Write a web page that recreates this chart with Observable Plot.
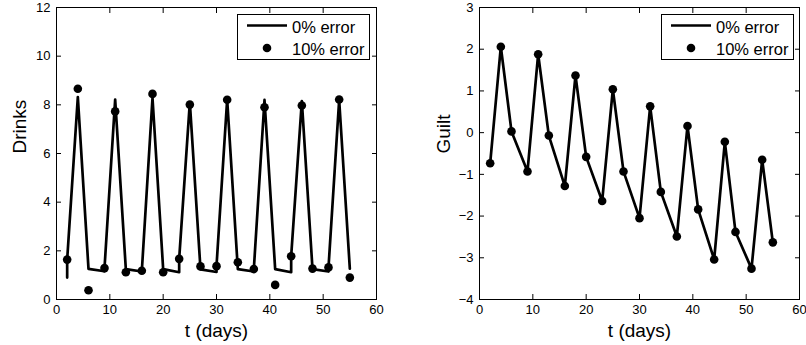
<!DOCTYPE html>
<html><head><meta charset="utf-8">
<script src="https://cdn.jsdelivr.net/npm/d3@7"></script>
<script src="https://cdn.jsdelivr.net/npm/@observablehq/plot@0.6"></script>
<style>
body{margin:0;background:#fff;}
#wrap{position:relative;width:806px;height:345px;overflow:hidden;font-family:"Liberation Sans",Arial,sans-serif;}
#wrap .p{position:absolute;top:0;}
#wrap .legend{position:absolute;}
</style></head><body><div id="wrap"></div>
<script>
// ---- data ----
const xTicks = [0, 10, 20, 30, 40, 50, 60];
const drinksTicks = [0, 2, 4, 6, 8, 10, 12];
const guiltTicks = [-4, -3, -2, -1, 0, 1, 2, 3];
const legendLabels = ["0% error", "10% error"];

// observation days (10% error series)
const dayT = [2, 4, 6, 9, 11, 13, 16, 18, 20, 23, 25, 27, 30, 32, 34, 37, 39, 41, 44, 46, 48, 51, 53, 55];
const drinks10 = [1.64, 8.66, 0.38, 1.29, 7.73, 1.12, 1.18, 8.45, 1.12, 1.67, 8.01, 1.36, 1.37, 8.21, 1.53, 1.25, 7.90, 0.60, 1.78, 7.97, 1.27, 1.32, 8.22, 0.90];

// 0% error model line (drinks)
const drinks0T = [2, 2, 4, 6, 9, 9, 11, 13, 16, 16, 18, 20, 23, 23, 25, 27, 30, 30, 32, 34, 37, 37, 39, 41, 44, 44, 46, 48, 51, 51, 53, 55];
const drinks0 = [0.9, 1.64, 8.32, 1.26, 1.16, 1.29, 8.22, 1.25, 1.15, 1.18, 8.28, 1.25, 1.12, 1.67, 8.1, 1.24, 1.13, 1.37, 8.22, 1.25, 1.15, 1.25, 8.2, 1.25, 1.12, 1.78, 8.15, 1.25, 1.15, 1.32, 8.2, 1.27];

// guilt
const guilt0 = [-0.735, 2.06, 0.03, -0.93, 1.88, -0.07, -1.28, 1.37, -0.58, -1.64, 1.04, -0.93, -2.05, 0.63, -1.42, -2.49, 0.16, -1.84, -3.04, -0.22, -2.38, -3.26, -0.65, -2.63];
const guilt10 = [-0.735, 2.06, 0.03, -0.93, 1.88, -0.07, -1.28, 1.37, -0.58, -1.64, 1.04, -0.93, -2.05, 0.63, -1.42, -2.49, 0.16, -1.84, -3.04, -0.22, -2.38, -3.26, -0.65, -2.63];

// ---- drawing ----
const wrap = document.getElementById("wrap");

function makePlot({left, width, marginLeft, marginRight, yDomain, yTicks, yLabel, yLabelDx, lineT, lineV, dotT, dotV}) {
  const lineData = lineT.map((t, i) => ({t, v: lineV[i]}));
  const dotData = dotT.map((t, i) => ({t, v: dotV[i]}));
  const blank = () => "";
  const svg = Plot.plot({
    width, height: 345,
    marginLeft, marginRight, marginTop: 7, marginBottom: 46,
    x: {domain: [0, 60], axis: null},
    y: {domain: yDomain, axis: null},
    style: {fontFamily: '"Liberation Sans", Arial, sans-serif', fontSize: "13px", color: "black", background: "white", overflow: "visible"},
    marks: [
      Plot.line(lineData, {x: "t", y: "v", stroke: "black", strokeWidth: 2.7}),
      Plot.dot(dotData, {x: "t", y: "v", r: 4.3, fill: "black", stroke: "none"}),
      Plot.frame({stroke: "black", strokeWidth: 1}),
      Plot.axisX(xTicks, {anchor: "bottom", tickSize: -5, tickPadding: 10, label: null}),
      Plot.axisX(xTicks, {anchor: "top", tickSize: -5, tickFormat: blank, label: null}),
      Plot.axisY(yTicks, {anchor: "left", tickSize: -5, tickPadding: 11, label: null}),
      Plot.axisY(yTicks, {anchor: "right", tickSize: -5, tickFormat: blank, label: null}),
      Plot.text(["t (days)"], {text: d => d, frameAnchor: "bottom", lineAnchor: "bottom", dy: 37, fontSize: 19}),
      Plot.text([yLabel], {text: d => d, frameAnchor: "left", rotate: -90, dx: yLabelDx, fontSize: 19})
    ]
  });
  svg.classList.add("p");
  svg.style.left = left + "px";
  wrap.appendChild(svg);
}

function makeLegend(left, top) {
  const w = 133, h = 46;
  const div = document.createElement("div");
  div.className = "legend";
  div.style.left = left + "px";
  div.style.top = top + "px";
  wrap.appendChild(div);
  const s = d3.select(div).append("svg").attr("width", w).attr("height", h);
  s.append("rect").attr("x", 0.5).attr("y", 0.5).attr("width", w - 1).attr("height", h - 1)
    .attr("fill", "white").attr("stroke", "black");
  s.append("line").attr("x1", 10).attr("x2", 50).attr("y1", 11.5).attr("y2", 11.5)
    .attr("stroke", "black").attr("stroke-width", 2.7);
  s.append("circle").attr("cx", 30).attr("cy", 34).attr("r", 4.3).attr("fill", "black");
  s.selectAll("text").data(legendLabels).join("text")
    .attr("x", 55).attr("y", (d, i) => i === 0 ? 19 : 40.5)
    .attr("font-family", '"Liberation Sans", Arial, sans-serif')
    .attr("font-size", 16.5).attr("fill", "black").text(d => d);
}

makePlot({left: 0, width: 400, marginLeft: 56, marginRight: 24, yDomain: [0, 12], yTicks: drinksTicks,
  yLabel: "Drinks", yLabelDx: -37, lineT: drinks0T, lineV: drinks0, dotT: dayT, dotV: drinks10});
makePlot({left: 400, width: 406, marginLeft: 79, marginRight: 7, yDomain: [-4, 3], yTicks: guiltTicks,
  yLabel: "Guilt", yLabelDx: -36, lineT: dayT, lineV: guilt0, dotT: dayT, dotV: guilt10});
makeLegend(237, 14);
makeLegend(661, 14);
</script></body></html>
